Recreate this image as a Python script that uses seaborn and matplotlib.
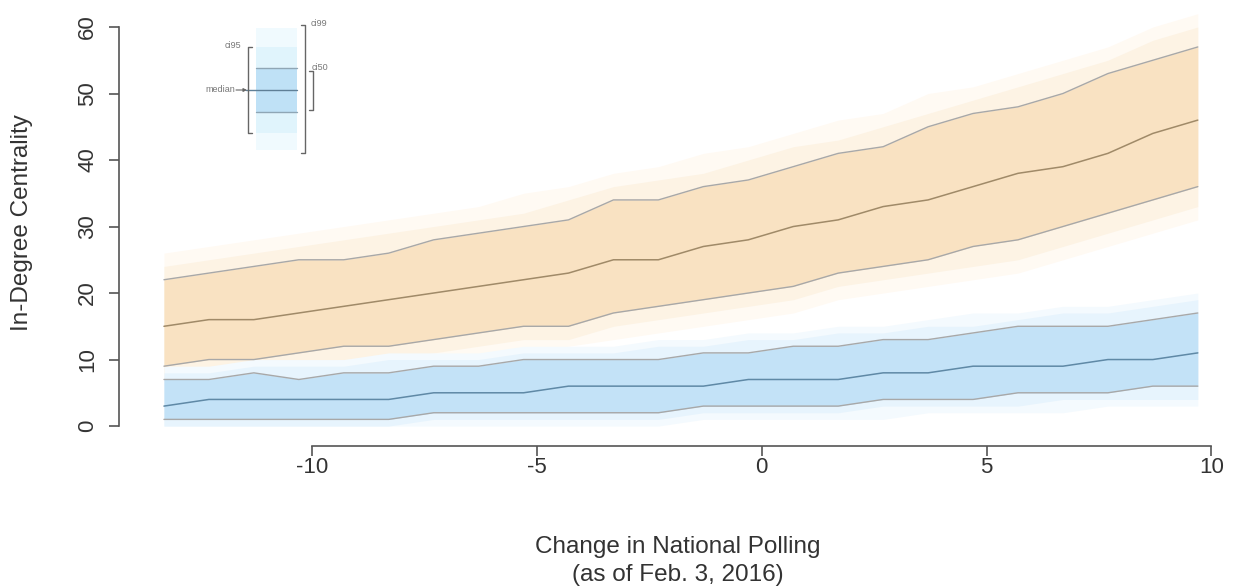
import matplotlib
matplotlib.use('Agg')
import matplotlib.pyplot as plt
import pandas as pd
import seaborn as sns

# change in national polling (x) for each estimate
polling = [-13.3, -12.3, -11.3, -10.3, -9.3, -8.3, -7.3, -6.3, -5.3, -4.3, -3.3, -2.3,
           -1.3, -0.3, 0.7, 1.7, 2.7, 3.7, 4.7, 5.7, 6.7, 7.7, 8.7, 9.7]

# orange group: median, inner band, 95 and 99 bands
orange_med = [15, 16, 16, 17, 18, 19, 20, 21, 22, 23, 25, 25, 27, 28, 30, 31, 33, 34, 36, 38, 39, 41, 44, 46]
orange_lo = [9, 10, 10, 11, 12, 12, 13, 14, 15, 15, 17, 18, 19, 20, 21, 23, 24, 25, 27, 28, 30, 32, 34, 36]
orange_hi = [22, 23, 24, 25, 25, 26, 28, 29, 30, 31, 34, 34, 36, 37, 39, 41, 42, 45, 47, 48, 50, 53, 55, 57]
orange_lo95 = [7, 8, 8, 9, 10, 10, 11, 12, 13, 13, 15, 16, 17, 18, 19, 21, 22, 23, 24, 25, 27, 29, 31, 33]
orange_hi95 = [24, 25, 26, 27, 28, 29, 30, 31, 32, 34, 36, 37, 38, 40, 42, 43, 45, 47, 49, 51, 53, 55, 58, 60]
orange_lo99 = [6, 6, 7, 7, 8, 9, 9, 10, 11, 12, 13, 14, 15, 16, 17, 19, 20, 21, 22, 23, 25, 27, 29, 31]
orange_hi99 = [26, 27, 28, 29, 30, 31, 32, 33, 35, 36, 38, 39, 41, 42, 44, 46, 47, 50, 51, 53, 55, 57, 60, 62]

# blue group
blue_med = [3, 4, 4, 4, 4, 4, 5, 5, 5, 6, 6, 6, 6, 7, 7, 7, 8, 8, 9, 9, 9, 10, 10, 11]
blue_lo = [1, 1, 1, 1, 1, 1, 2, 2, 2, 2, 2, 2, 3, 3, 3, 3, 4, 4, 4, 5, 5, 5, 6, 6]
blue_hi = [7, 7, 8, 7, 8, 8, 9, 9, 10, 10, 10, 10, 11, 11, 12, 12, 13, 13, 14, 15, 15, 15, 16, 17]
blue_lo95 = [0, 0, 0, 0, 0, 0, 1, 1, 1, 1, 1, 1, 2, 2, 2, 2, 3, 3, 3, 3, 4, 4, 4, 4]
blue_hi95 = [8, 8, 9, 9, 9, 10, 10, 10, 11, 11, 11, 12, 12, 13, 13, 14, 14, 15, 15, 16, 17, 17, 18, 19]
blue_lo99 = [0, 0, 0, 0, 0, 0, 0, 0, 0, 0, 0, 0, 1, 1, 1, 1, 1, 2, 2, 2, 2, 3, 3, 3]
blue_hi99 = [9, 9, 10, 10, 10, 11, 11, 11, 12, 12, 12, 13, 13, 14, 14, 15, 15, 16, 17, 17, 18, 18, 19, 20]

x_ticks = [-10, -5, 0, 5, 10]
y_ticks = [0, 10, 20, 30, 40, 50, 60]

# legend key levels (in key pixel units)
key_levels = {'ci99': (28, 150), 'ci95': (47, 133), 'ci50': (68, 112)}
key_median = 90

sns.set_theme(style='white')
plt.rcParams['font.family'] = ['Liberation Sans', 'DejaVu Sans']
txt = '#333333'
axc = '#555555'

df = pd.DataFrame({
    'polling': polling * 2,
    'group': ['orange'] * len(polling) + ['blue'] * len(polling),
    'median': orange_med + blue_med,
    'lo': orange_lo + blue_lo,
    'hi': orange_hi + blue_hi,
})

fig = plt.figure(figsize=(12.36, 5.87), dpi=100)
ax = fig.add_axes([119 / 1236, (587 - 446) / 587, 1 - 119 / 1236, 446 / 587])

# faint outer bands
ax.fill_between(polling, orange_lo99, orange_hi99, color='#fffaf3', lw=0)
ax.fill_between(polling, orange_lo95, orange_hi95, color='#fdf3e4', lw=0)
ax.fill_between(polling, blue_lo99, blue_hi99, color='#f4fafe', lw=0)
ax.fill_between(polling, blue_lo95, blue_hi95, color='#e7f4fd', lw=0)
# main bands
ax.fill_between(polling, orange_lo, orange_hi, color='#f9e2c2', lw=0)
ax.fill_between(polling, blue_lo, blue_hi, color='#c3e2f7', lw=0)

for g in ['orange', 'blue']:
    sub = df[df['group'] == g]
    sns.lineplot(data=sub, x='polling', y='lo', color='#a8a8a8', lw=1, ax=ax)
    sns.lineplot(data=sub, x='polling', y='hi', color='#a8a8a8', lw=1, ax=ax)

sns.lineplot(data=df, x='polling', y='median', hue='group',
             palette={'orange': '#a08a68', 'blue': '#5f89a6'}, lw=1.1,
             legend=False, ax=ax)

ax.set_xlim(-14.3, 10.55)
ax.set_ylim(-3.0, 64.06)
ax.set_xticks(x_ticks)
ax.set_yticks(y_ticks)
ax.set_xticklabels([str(v) for v in x_ticks])
ax.set_yticklabels([str(v) for v in y_ticks], rotation=90, va='center')

for s in ['top', 'right']:
    ax.spines[s].set_visible(False)
for s in ['left', 'bottom']:
    ax.spines[s].set_color(axc)
    ax.spines[s].set_linewidth(1.2)
ax.spines['left'].set_bounds(0, 60)
ax.spines['bottom'].set_bounds(-10, 10)
ax.tick_params(direction='out', length=7, width=1.2, color=axc,
               labelsize=16, labelcolor=txt, left=True, bottom=True)
ax.tick_params(axis='x', pad=1)
ax.tick_params(axis='y', pad=8)

ax.set_xlabel('Change in National Polling\n(as of Feb. 3, 2016)', fontsize=17.5,
              color=txt, linespacing=1.3)
ax.xaxis.label.set_va('center')
ax.xaxis.set_label_coords(0.5, (446 - 561) / 446)
ax.set_ylabel('In-Degree Centrality', fontsize=17.5, color=txt)
ax.yaxis.label.set_va('center')
ax.yaxis.set_label_coords((22 - 119) / 1117, 0.5)

# legend key drawn in pixel units
kx = fig.add_axes([195 / 1236, (587 - 160) / 587, 145 / 1236, 145 / 587])
kx.set_xlim(195, 340)
kx.set_ylim(160, 15)
kx.axis('off')
kcol = {'ci99': '#f0fafe', 'ci95': '#e0f4fc', 'ci50': '#bfe1f6'}
for name in ['ci99', 'ci95', 'ci50']:
    lo, hi = key_levels[name]
    kx.fill_between([256, 297], [lo, lo], [hi, hi], color=kcol[name], lw=0)
lo, hi = key_levels['ci50']
kx.plot([256, 297], [lo, lo], color='#8fa6b5', lw=1)
kx.plot([256, 297], [hi, hi], color='#8fa6b5', lw=1)
kx.plot([246, 297], [key_median, key_median], color='#5f7f96', lw=1)
kx.annotate('', xy=(247, key_median), xytext=(236, key_median),
            arrowprops=dict(arrowstyle='-|>', color='#666', lw=0.8,
                            mutation_scale=5, shrinkA=0, shrinkB=0))
kx.text(235, key_median, 'median', fontsize=6.5, color='#777', ha='right', va='center')

bc = '#666666'
# left bracket: ci95
lo, hi = key_levels['ci95']
kx.plot([252, 248, 248, 252], [lo, lo, hi, hi], color=bc, lw=1)
kx.text(241, lo - 1, 'ci95', fontsize=6.5, color='#777', ha='right', va='center')
# right big bracket: ci99
lo, hi = key_levels['ci99']
kx.plot([301, 305, 305, 301], [lo - 3, lo - 3, hi + 3, hi + 3], color=bc, lw=1)
kx.text(311, lo - 5, 'ci99', fontsize=6.5, color='#777', ha='left', va='center')
# right small bracket: ci50
lo, hi = key_levels['ci50']
kx.plot([309, 313, 313, 309], [lo + 3, lo + 3, hi - 2, hi - 2], color=bc, lw=1)
kx.text(312, lo - 1, 'ci50', fontsize=6.5, color='#777', ha='left', va='center')

fig.savefig('out.png', dpi=100, facecolor='white')
